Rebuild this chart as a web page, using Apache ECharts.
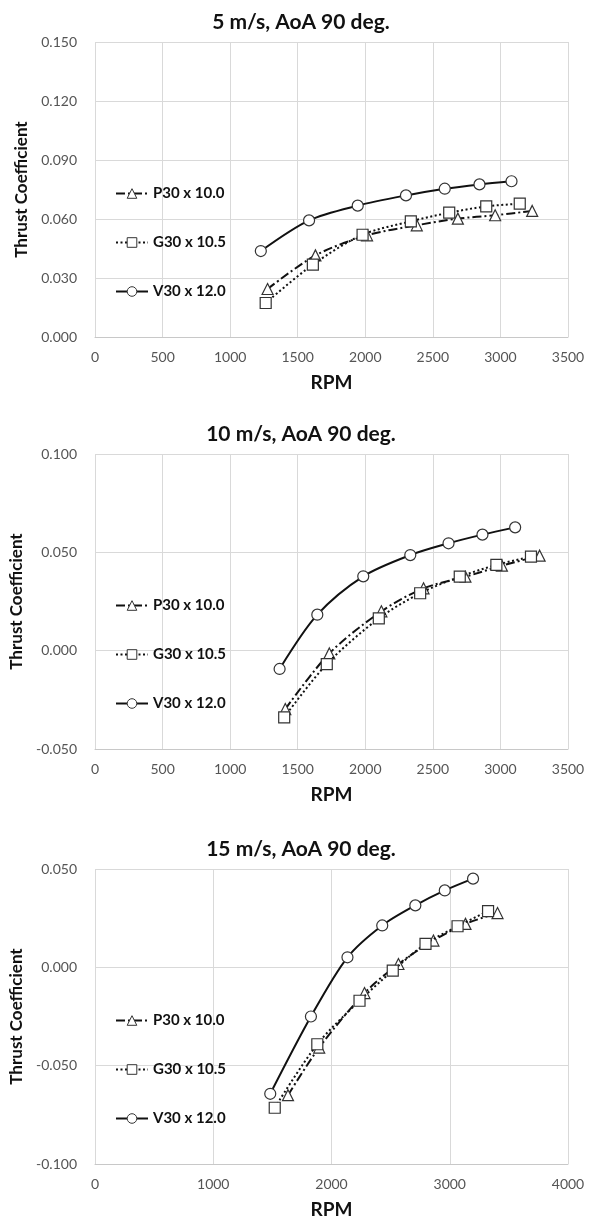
<!DOCTYPE html>
<html>
<head>
<meta charset="utf-8">
<script src="https://cdn.jsdelivr.net/npm/echarts@6/dist/echarts.min.js"></script>
<style>
  html, body { margin: 0; padding: 0; background: #fff; }
  #chart { width: 591px; height: 1217px; }
</style>
</head>
<body>
<div id="chart"></div>
<script>
// series names
const names = ['P30 x 10.0', 'G30 x 10.5', 'V30 x 12.0']
const titles = ['5 m/s, AoA 90 deg.', '10 m/s, AoA 90 deg.', '15 m/s, AoA 90 deg.']

// 5 m/s
const p30_5_rpm = [1277, 1631, 2013, 2381, 2685, 2961, 3235]
const p30_5_ct = [0.0244, 0.0415, 0.0517, 0.0568, 0.0602, 0.0619, 0.0641]
const g30_5_rpm = [1263, 1612, 1980, 2337, 2621, 2895, 3143]
const g30_5_ct = [0.0173, 0.0368, 0.0520, 0.0588, 0.0632, 0.0664, 0.0678]
const v30_5_rpm = [1227, 1584, 1944, 2301, 2588, 2845, 3082]
const v30_5_ct = [0.0437, 0.0593, 0.0668, 0.0720, 0.0754, 0.0776, 0.0792]

// 10 m/s
const p30_10_rpm = [1408, 1734, 2119, 2431, 2741, 3011, 3290]
const p30_10_ct = [-0.0297, -0.0014, 0.0200, 0.0317, 0.0376, 0.0432, 0.0483]
const g30_10_rpm = [1400, 1715, 2100, 2406, 2699, 2970, 3226]
const g30_10_ct = [-0.0339, -0.0068, 0.0164, 0.0292, 0.0376, 0.0436, 0.0478]
const v30_10_rpm = [1366, 1645, 1985, 2333, 2616, 2867, 3109]
const v30_10_ct = [-0.0093, 0.0183, 0.0378, 0.0486, 0.0546, 0.0590, 0.0627]

// 15 m/s
const p30_15_rpm = [1632, 1896, 2279, 2566, 2862, 3133, 3404]
const p30_15_ct = [-0.0650, -0.0408, -0.0131, 0.0017, 0.0136, 0.0221, 0.0276]
const g30_15_rpm = [1520, 1880, 2237, 2518, 2795, 3066, 3324]
const g30_15_ct = [-0.0714, -0.0391, -0.0170, -0.0017, 0.0119, 0.0209, 0.0286]
const v30_15_rpm = [1482, 1826, 2135, 2429, 2709, 2958, 3197]
const v30_15_ct = [-0.0643, -0.0250, 0.0051, 0.0213, 0.0315, 0.0391, 0.0451]

// axis ranges per panel: [min, max, interval]
const xRanges = [[0, 3500, 500], [0, 3500, 500], [0, 4000, 1000]]
const yRanges = [[0, 0.15, 0.03], [-0.05, 0.1, 0.05], [-0.1, 0.05, 0.05]]

const panels = [
  [[p30_5_rpm, p30_5_ct], [g30_5_rpm, g30_5_ct], [v30_5_rpm, v30_5_ct]],
  [[p30_10_rpm, p30_10_ct], [g30_10_rpm, g30_10_ct], [v30_10_rpm, v30_10_ct]],
  [[p30_15_rpm, p30_15_ct], [g30_15_rpm, g30_15_ct], [v30_15_rpm, v30_15_ct]]
]

const font = 'Lato'
const gridTops = [42, 454, 869]
const gridH = 295
const symbols = ['triangle', 'rect', 'circle']
const symbolSizes = [11, 11, 11]
const lineTypes = [[9, 3, 2, 3], [2, 2.5], 'solid']

function pair(xs, ys) {
  return xs.map((x, i) => [x, ys[i]])
}

const option = {
  animation: false,
  title: titles.map((t, i) => ({
    text: t,
    left: 296,
    top: gridTops[i] - 35,
    textAlign: 'center',
    textStyle: { fontFamily: font, fontSize: 21, fontWeight: 'bold', color: '#111' }
  })),
  legend: gridTops.map((top) => ({
    data: names,
    orient: 'vertical',
    left: 110,
    top: top + 139,
    itemWidth: 32,
    itemHeight: 12,
    itemGap: 34,
    itemStyle: { color: '#fff', borderColor: '#333', borderWidth: 1 },
    textStyle: { fontFamily: font, fontSize: 15, fontWeight: 'bold', color: '#111' }
  })),
  grid: gridTops.map((top) => ({
    left: 95, top: top, width: 473, height: gridH, outerBoundsMode: 'none'
  })),
  xAxis: xRanges.map((r, i) => ({
    type: 'value',
    gridIndex: i,
    min: r[0], max: r[1], interval: r[2],
    name: 'RPM',
    nameLocation: 'middle',
    nameGap: 36,
    nameTextStyle: { fontFamily: font, fontSize: 19, fontWeight: 'bold', color: '#111' },
    axisLine: { show: true, onZero: false, lineStyle: { color: '#c8c8c8' } },
    axisTick: { show: false },
    axisLabel: {
      fontFamily: font, fontSize: 14, color: '#555', margin: 13,
      formatter: (v) => String(v)
    },
    splitLine: { show: true, lineStyle: { color: '#d9d9d9' } }
  })),
  yAxis: yRanges.map((r, i) => ({
    type: 'value',
    gridIndex: i,
    min: r[0], max: r[1], interval: r[2],
    name: 'Thrust Coefficient',
    nameLocation: 'middle',
    nameGap: 59,
    nameTextStyle: { fontFamily: font, fontSize: 17, fontWeight: 'bold', color: '#111' },
    axisLine: { show: false },
    axisTick: { show: false },
    axisLabel: {
      fontFamily: font, fontSize: 14, color: '#555', margin: 18,
      formatter: (v) => v.toFixed(3)
    },
    splitLine: { show: true, lineStyle: { color: '#d9d9d9' } }
  })),
  series: []
}

panels.forEach((panel, gi) => {
  panel.forEach((d, si) => {
    option.series.push({
      name: names[si],
      type: 'line',
      xAxisIndex: gi,
      yAxisIndex: gi,
      data: pair(d[0], d[1]),
      smooth: 0.3,
      symbol: symbols[si],
      symbolSize: symbolSizes[si],
      showAllSymbol: true,
      lineStyle: { color: '#111', width: 2, type: lineTypes[si] },
      itemStyle: { color: '#fff', borderColor: '#333', borderWidth: 1.2 },
      z: 2 + si
    })
  })
})

const chart = echarts.init(document.getElementById('chart'))
chart.setOption(option)
</script>
</body>
</html>
